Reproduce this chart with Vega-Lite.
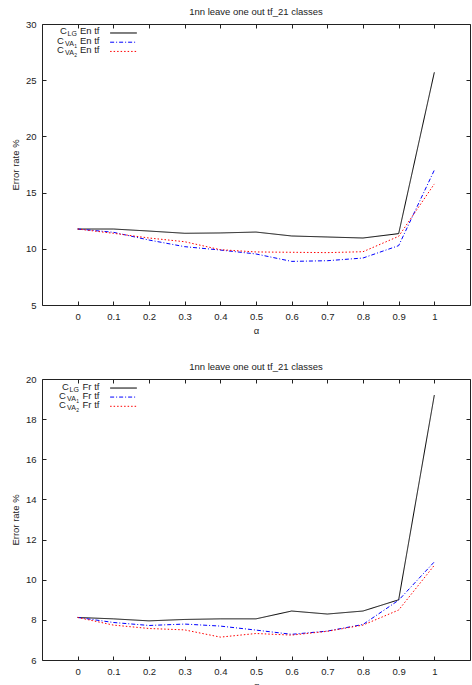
{
  "$schema": "https://vega.github.io/schema/vega-lite/v6.json",
  "background": "white",
  "padding": {"left": 9, "top": 6, "right": 0, "bottom": 0},
  "spacing": 25,
  "config": {
    "font": "Liberation Sans",
    "view": {"stroke": "#222", "strokeWidth": 1},
    "axis": {
      "domain": false, "grid": false, "ticks": true, "tickSize": -4, "tickColor": "#222", "tickWidth": 1,
      "labelFont": "Liberation Sans", "labelFontSize": 9.5, "labelColor": "#222", "labelPadding": 10,
      "titleFont": "Liberation Sans", "titleFontSize": 9.5, "titleFontWeight": "normal", "titleColor": "#222", "titlePadding": 5
    },
    "title": {"font": "Liberation Sans", "fontSize": 9.5, "fontWeight": "normal", "color": "#222", "offset": 3, "frame": "group"},
    "text": {"font": "Liberation Sans", "color": "#222"}
  },
  "datasets": {
    "en": [
      {"alpha": 0, "series": "LG", "rate": 11.76}, {"alpha": 0.1, "series": "LG", "rate": 11.76}, {"alpha": 0.2, "series": "LG", "rate": 11.58},
      {"alpha": 0.3, "series": "LG", "rate": 11.38}, {"alpha": 0.4, "series": "LG", "rate": 11.41}, {"alpha": 0.5, "series": "LG", "rate": 11.49},
      {"alpha": 0.6, "series": "LG", "rate": 11.14}, {"alpha": 0.7, "series": "LG", "rate": 11.05}, {"alpha": 0.8, "series": "LG", "rate": 10.96},
      {"alpha": 0.9, "series": "LG", "rate": 11.35}, {"alpha": 1, "series": "LG", "rate": 25.7},
      {"alpha": 0, "series": "VA1", "rate": 11.76}, {"alpha": 0.1, "series": "VA1", "rate": 11.47}, {"alpha": 0.2, "series": "VA1", "rate": 10.78},
      {"alpha": 0.3, "series": "VA1", "rate": 10.19}, {"alpha": 0.4, "series": "VA1", "rate": 9.89}, {"alpha": 0.5, "series": "VA1", "rate": 9.54},
      {"alpha": 0.6, "series": "VA1", "rate": 8.88}, {"alpha": 0.7, "series": "VA1", "rate": 8.94}, {"alpha": 0.8, "series": "VA1", "rate": 9.18},
      {"alpha": 0.9, "series": "VA1", "rate": 10.28}, {"alpha": 1, "series": "VA1", "rate": 17.0},
      {"alpha": 0, "series": "VA2", "rate": 11.76}, {"alpha": 0.1, "series": "VA2", "rate": 11.38}, {"alpha": 0.2, "series": "VA2", "rate": 10.96},
      {"alpha": 0.3, "series": "VA2", "rate": 10.63}, {"alpha": 0.4, "series": "VA2", "rate": 9.92}, {"alpha": 0.5, "series": "VA2", "rate": 9.72},
      {"alpha": 0.6, "series": "VA2", "rate": 9.69}, {"alpha": 0.7, "series": "VA2", "rate": 9.66}, {"alpha": 0.8, "series": "VA2", "rate": 9.74},
      {"alpha": 0.9, "series": "VA2", "rate": 11.11}, {"alpha": 1, "series": "VA2", "rate": 15.77}
    ],
    "fr": [
      {"alpha": 0, "series": "LG", "rate": 8.12}, {"alpha": 0.1, "series": "LG", "rate": 8.05}, {"alpha": 0.2, "series": "LG", "rate": 7.95},
      {"alpha": 0.3, "series": "LG", "rate": 8.02}, {"alpha": 0.4, "series": "LG", "rate": 8.05}, {"alpha": 0.5, "series": "LG", "rate": 8.05},
      {"alpha": 0.6, "series": "LG", "rate": 8.44}, {"alpha": 0.7, "series": "LG", "rate": 8.29}, {"alpha": 0.8, "series": "LG", "rate": 8.44},
      {"alpha": 0.9, "series": "LG", "rate": 9.0}, {"alpha": 1, "series": "LG", "rate": 19.2},
      {"alpha": 0, "series": "VA1", "rate": 8.12}, {"alpha": 0.1, "series": "VA1", "rate": 7.87}, {"alpha": 0.2, "series": "VA1", "rate": 7.72},
      {"alpha": 0.3, "series": "VA1", "rate": 7.79}, {"alpha": 0.4, "series": "VA1", "rate": 7.69}, {"alpha": 0.5, "series": "VA1", "rate": 7.49},
      {"alpha": 0.6, "series": "VA1", "rate": 7.28}, {"alpha": 0.7, "series": "VA1", "rate": 7.44}, {"alpha": 0.8, "series": "VA1", "rate": 7.77},
      {"alpha": 0.9, "series": "VA1", "rate": 8.98}, {"alpha": 1, "series": "VA1", "rate": 10.89},
      {"alpha": 0, "series": "VA2", "rate": 8.12}, {"alpha": 0.1, "series": "VA2", "rate": 7.74}, {"alpha": 0.2, "series": "VA2", "rate": 7.57},
      {"alpha": 0.3, "series": "VA2", "rate": 7.5}, {"alpha": 0.4, "series": "VA2", "rate": 7.14}, {"alpha": 0.5, "series": "VA2", "rate": 7.32},
      {"alpha": 0.6, "series": "VA2", "rate": 7.24}, {"alpha": 0.7, "series": "VA2", "rate": 7.43}, {"alpha": 0.8, "series": "VA2", "rate": 7.74},
      {"alpha": 0.9, "series": "VA2", "rate": 8.49}, {"alpha": 1, "series": "VA2", "rate": 10.72}
    ]
  },
  "vconcat": [
    {
      "title": "1nn leave one out tf_21 classes",
      "width": 428,
      "height": 281,
      "layer": [
        {
          "data": {"name": "en"},
          "mark": {"type": "line", "strokeWidth": 1},
          "encoding": {
            "x": {"field": "alpha", "type": "quantitative", "scale": {"domain": [-0.1, 1.1], "nice": false, "zero": false},
                  "axis": {"orient": "bottom", "title": "α", "values": [0, 0.1, 0.2, 0.3, 0.4, 0.5, 0.6, 0.7, 0.8, 0.9, 1], "format": "~g"}},
            "y": {"field": "rate", "type": "quantitative", "scale": {"domain": [5, 30], "nice": false, "zero": false},
                  "axis": {"orient": "left", "title": "Error rate %", "values": [5, 10, 15, 20, 25, 30]}},
            "color": {"field": "series", "type": "nominal", "scale": {"domain": ["LG", "VA1", "VA2"], "range": ["#000000", "#0000ff", "#ff0000"]}, "legend": null},
            "strokeDash": {"field": "series", "type": "nominal", "scale": {"domain": ["LG", "VA1", "VA2"], "range": [[1, 0], [4, 2, 1, 2], [1.5, 2]]}, "legend": null}
          }
        },
        {
          "data": {"name": "en"},
          "mark": {"type": "point", "opacity": 0},
          "encoding": {
            "x": {"field": "alpha", "type": "quantitative", "axis": {"orient": "top", "labels": false, "labelPadding": 4, "title": null, "values": [0, 0.1, 0.2, 0.3, 0.4, 0.5, 0.6, 0.7, 0.8, 0.9, 1]}},
            "y": {"field": "rate", "type": "quantitative", "axis": {"orient": "right", "labels": false, "labelPadding": 4, "title": null, "values": [5, 10, 15, 20, 25, 30]}}
          }
        },
        {"data": {"values": [{}]}, "mark": {"type": "rule", "color": "#000000", "strokeWidth": 1},
         "encoding": {"x": {"datum": 0.091, "axis": null}, "x2": {"datum": 0.166}, "y": {"datum": 29.2, "axis": null}}},
        {"data": {"values": [{}]}, "mark": {"type": "rule", "color": "#0000ff", "strokeWidth": 1, "strokeDash": [4, 2, 1, 2]},
         "encoding": {"x": {"datum": 0.091, "axis": null}, "x2": {"datum": 0.166}, "y": {"datum": 28.38, "axis": null}}},
        {"data": {"values": [{}]}, "mark": {"type": "rule", "color": "#ff0000", "strokeWidth": 1, "strokeDash": [1.5, 2]},
         "encoding": {"x": {"datum": 0.091, "axis": null}, "x2": {"datum": 0.166}, "y": {"datum": 27.56, "axis": null}}},
        {"data": {"values": [{}]}, "mark": {"type": "text", "text": "En tf", "align": "right", "baseline": "middle", "fontSize": 9.5, "dy": -1.5},
         "encoding": {"x": {"datum": 0.061, "axis": null}, "y": {"datum": 29.2, "axis": null}}},
        {"data": {"values": [{}]}, "mark": {"type": "text", "text": "En tf", "align": "right", "baseline": "middle", "fontSize": 9.5, "dy": -1.5},
         "encoding": {"x": {"datum": 0.061, "axis": null}, "y": {"datum": 28.38, "axis": null}}},
        {"data": {"values": [{}]}, "mark": {"type": "text", "text": "En tf", "align": "right", "baseline": "middle", "fontSize": 9.5, "dy": -1.5},
         "encoding": {"x": {"datum": 0.061, "axis": null}, "y": {"datum": 27.56, "axis": null}}},
        {"data": {"values": [{}]}, "mark": {"type": "text", "text": "LG", "align": "right", "baseline": "middle", "fontSize": 7, "dx": -22.5, "dy": 1.5},
         "encoding": {"x": {"datum": 0.061, "axis": null}, "y": {"datum": 29.2, "axis": null}}},
        {"data": {"values": [{}]}, "mark": {"type": "text", "text": "VA", "align": "right", "baseline": "middle", "fontSize": 7, "dx": -25.5, "dy": 1.5},
         "encoding": {"x": {"datum": 0.061, "axis": null}, "y": {"datum": 28.38, "axis": null}}},
        {"data": {"values": [{}]}, "mark": {"type": "text", "text": "VA", "align": "right", "baseline": "middle", "fontSize": 7, "dx": -25.5, "dy": 1.5},
         "encoding": {"x": {"datum": 0.061, "axis": null}, "y": {"datum": 27.56, "axis": null}}},
        {"data": {"values": [{}]}, "mark": {"type": "text", "text": "1", "align": "right", "baseline": "middle", "fontSize": 5, "dx": -22.5, "dy": 4},
         "encoding": {"x": {"datum": 0.061, "axis": null}, "y": {"datum": 28.38, "axis": null}}},
        {"data": {"values": [{}]}, "mark": {"type": "text", "text": "2", "align": "right", "baseline": "middle", "fontSize": 5, "dx": -22.5, "dy": 4},
         "encoding": {"x": {"datum": 0.061, "axis": null}, "y": {"datum": 27.56, "axis": null}}},
        {"data": {"values": [{}]}, "mark": {"type": "text", "text": "C", "align": "right", "baseline": "middle", "fontSize": 9.5, "dx": -32.5, "dy": -1.5},
         "encoding": {"x": {"datum": 0.061, "axis": null}, "y": {"datum": 29.2, "axis": null}}},
        {"data": {"values": [{}]}, "mark": {"type": "text", "text": "C", "align": "right", "baseline": "middle", "fontSize": 9.5, "dx": -35.5, "dy": -1.5},
         "encoding": {"x": {"datum": 0.061, "axis": null}, "y": {"datum": 28.38, "axis": null}}},
        {"data": {"values": [{}]}, "mark": {"type": "text", "text": "C", "align": "right", "baseline": "middle", "fontSize": 9.5, "dx": -35.5, "dy": -1.5},
         "encoding": {"x": {"datum": 0.061, "axis": null}, "y": {"datum": 27.56, "axis": null}}}
      ]
    },
    {
      "title": "1nn leave one out tf_21 classes",
      "width": 428,
      "height": 281,
      "layer": [
        {
          "data": {"name": "fr"},
          "mark": {"type": "line", "strokeWidth": 1},
          "encoding": {
            "x": {"field": "alpha", "type": "quantitative", "scale": {"domain": [-0.1, 1.1], "nice": false, "zero": false},
                  "axis": {"orient": "bottom", "title": "α", "values": [0, 0.1, 0.2, 0.3, 0.4, 0.5, 0.6, 0.7, 0.8, 0.9, 1], "format": "~g"}},
            "y": {"field": "rate", "type": "quantitative", "scale": {"domain": [6, 20], "nice": false, "zero": false},
                  "axis": {"orient": "left", "title": "Error rate %", "values": [6, 8, 10, 12, 14, 16, 18, 20]}},
            "color": {"field": "series", "type": "nominal", "scale": {"domain": ["LG", "VA1", "VA2"], "range": ["#000000", "#0000ff", "#ff0000"]}, "legend": null},
            "strokeDash": {"field": "series", "type": "nominal", "scale": {"domain": ["LG", "VA1", "VA2"], "range": [[1, 0], [4, 2, 1, 2], [1.5, 2]]}, "legend": null}
          }
        },
        {
          "data": {"name": "fr"},
          "mark": {"type": "point", "opacity": 0},
          "encoding": {
            "x": {"field": "alpha", "type": "quantitative", "axis": {"orient": "top", "labels": false, "labelPadding": 4, "title": null, "values": [0, 0.1, 0.2, 0.3, 0.4, 0.5, 0.6, 0.7, 0.8, 0.9, 1]}},
            "y": {"field": "rate", "type": "quantitative", "axis": {"orient": "right", "labels": false, "labelPadding": 4, "title": null, "values": [6, 8, 10, 12, 14, 16, 18, 20]}}
          }
        },
        {"data": {"values": [{}]}, "mark": {"type": "rule", "color": "#000000", "strokeWidth": 1},
         "encoding": {"x": {"datum": 0.091, "axis": null}, "x2": {"datum": 0.166}, "y": {"datum": 19.55, "axis": null}}},
        {"data": {"values": [{}]}, "mark": {"type": "rule", "color": "#0000ff", "strokeWidth": 1, "strokeDash": [4, 2, 1, 2]},
         "encoding": {"x": {"datum": 0.091, "axis": null}, "x2": {"datum": 0.166}, "y": {"datum": 19.1, "axis": null}}},
        {"data": {"values": [{}]}, "mark": {"type": "rule", "color": "#ff0000", "strokeWidth": 1, "strokeDash": [1.5, 2]},
         "encoding": {"x": {"datum": 0.091, "axis": null}, "x2": {"datum": 0.166}, "y": {"datum": 18.64, "axis": null}}},
        {"data": {"values": [{}]}, "mark": {"type": "text", "text": "Fr tf", "align": "right", "baseline": "middle", "fontSize": 9.5, "dy": -1.5},
         "encoding": {"x": {"datum": 0.061, "axis": null}, "y": {"datum": 19.55, "axis": null}}},
        {"data": {"values": [{}]}, "mark": {"type": "text", "text": "Fr tf", "align": "right", "baseline": "middle", "fontSize": 9.5, "dy": -1.5},
         "encoding": {"x": {"datum": 0.061, "axis": null}, "y": {"datum": 19.1, "axis": null}}},
        {"data": {"values": [{}]}, "mark": {"type": "text", "text": "Fr tf", "align": "right", "baseline": "middle", "fontSize": 9.5, "dy": -1.5},
         "encoding": {"x": {"datum": 0.061, "axis": null}, "y": {"datum": 18.64, "axis": null}}},
        {"data": {"values": [{}]}, "mark": {"type": "text", "text": "LG", "align": "right", "baseline": "middle", "fontSize": 7, "dx": -20.5, "dy": 1.5},
         "encoding": {"x": {"datum": 0.061, "axis": null}, "y": {"datum": 19.55, "axis": null}}},
        {"data": {"values": [{}]}, "mark": {"type": "text", "text": "VA", "align": "right", "baseline": "middle", "fontSize": 7, "dx": -23.5, "dy": 1.5},
         "encoding": {"x": {"datum": 0.061, "axis": null}, "y": {"datum": 19.1, "axis": null}}},
        {"data": {"values": [{}]}, "mark": {"type": "text", "text": "VA", "align": "right", "baseline": "middle", "fontSize": 7, "dx": -23.5, "dy": 1.5},
         "encoding": {"x": {"datum": 0.061, "axis": null}, "y": {"datum": 18.64, "axis": null}}},
        {"data": {"values": [{}]}, "mark": {"type": "text", "text": "1", "align": "right", "baseline": "middle", "fontSize": 5, "dx": -20.5, "dy": 4},
         "encoding": {"x": {"datum": 0.061, "axis": null}, "y": {"datum": 19.1, "axis": null}}},
        {"data": {"values": [{}]}, "mark": {"type": "text", "text": "2", "align": "right", "baseline": "middle", "fontSize": 5, "dx": -20.5, "dy": 4},
         "encoding": {"x": {"datum": 0.061, "axis": null}, "y": {"datum": 18.64, "axis": null}}},
        {"data": {"values": [{}]}, "mark": {"type": "text", "text": "C", "align": "right", "baseline": "middle", "fontSize": 9.5, "dx": -30.5, "dy": -1.5},
         "encoding": {"x": {"datum": 0.061, "axis": null}, "y": {"datum": 19.55, "axis": null}}},
        {"data": {"values": [{}]}, "mark": {"type": "text", "text": "C", "align": "right", "baseline": "middle", "fontSize": 9.5, "dx": -33.5, "dy": -1.5},
         "encoding": {"x": {"datum": 0.061, "axis": null}, "y": {"datum": 19.1, "axis": null}}},
        {"data": {"values": [{}]}, "mark": {"type": "text", "text": "C", "align": "right", "baseline": "middle", "fontSize": 9.5, "dx": -33.5, "dy": -1.5},
         "encoding": {"x": {"datum": 0.061, "axis": null}, "y": {"datum": 18.64, "axis": null}}}
      ]
    }
  ]
}
